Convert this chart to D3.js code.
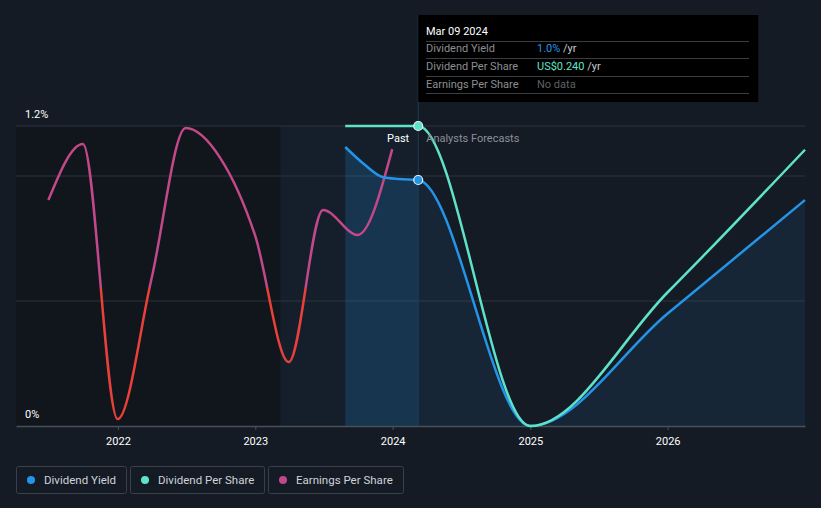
<!DOCTYPE html>
<html><head><meta charset="utf-8">
<script src="https://cdn.jsdelivr.net/npm/d3@7"></script>
<style>
html,body{margin:0;padding:0;background:#151b25;}
svg{display:block;font-family:Roboto,"Noto Sans",sans-serif;}
</style></head>
<body>
<svg id="chart" width="821" height="508"></svg>
<script>
// ---- data ----
const yearTicks = ["2022-01-01","2023-01-01","2024-01-01","2025-01-01","2026-01-01"];
const yTickValues = [0, 1.2];
const yTickLabels = ["0%", "1.2%"];
const gridValues = [0.5, 1.0, 1.2];

const yieldDates = ["2023-08-28","2023-10-15","2023-12-05","2024-01-19","2024-03-09","2025-01-01","2026-01-01","2027-01-01"];
const yieldValues = [1.116, 1.05, 0.996, 0.988, 0.984, 0.0, 0.45, 0.904];

const dpsDates = ["2023-08-28","2023-10-15","2023-12-05","2024-01-19","2024-03-09","2025-01-01","2026-01-01","2027-01-01"];
const dpsValues = [0.240, 0.240, 0.240, 0.240, 0.240, 0.0, 0.107, 0.221];

const epsDates = ["2021-06-30","2021-09-30","2021-12-31","2022-03-31","2022-06-30","2022-09-30","2022-12-31","2023-03-31","2023-06-30","2023-09-30","2023-12-31"];
const epsValues = [0.293, 0.48, -0.437, 0.03, 0.533, 0.433, 0.177, -0.247, 0.26, 0.177, 0.463];

const nowDate = "2024-03-09";
const pastStart = "2023-03-09";
const legendNames = ["Dividend Yield","Dividend Per Share","Earnings Per Share"];
const tooltipRows = [["Dividend Yield","1.0%"," /yr"],["Dividend Per Share","US$0.240"," /yr"],["Earnings Per Share","No data",""]];

// ---- setup ----
const parse = d3.timeParse("%Y-%m-%d");
const C = {yield:"#2394e6", dps:"#5fe3c8", eps:"#c2488a", epsNeg:"#e8403a"};
const svg = d3.select("#chart");
const L = 16, R = 805, T = 126, B = 426;

const x = d3.scaleTime().domain([parse("2021-04-05"), parse("2027-01-01")]).range([L, R]);
const y = d3.scaleLinear().domain([0, 1.2]).range([B, T]);
const yDps = d3.scaleLinear().domain([0, 0.24]).range([B, T]);
const yEps = d3.scaleLinear().domain([-0.46, 0.54]).range([B, T]);

const nowX = x(parse(nowDate));
const defs = svg.append("defs");

// background regions
svg.append("rect").attr("x", L).attr("y", T).attr("width", x(parse(pastStart)) - L).attr("height", B - T)
  .attr("fill", "#11151c");
svg.append("rect").attr("x", x(parse(pastStart))).attr("y", T).attr("width", nowX - x(parse(pastStart))).attr("height", B - T)
  .attr("fill", "#141f2b");

// gridlines
svg.append("g").selectAll("line").data(gridValues).join("line")
  .attr("x1", L).attr("x2", R).attr("y1", d => y(d)).attr("y2", d => y(d))
  .attr("stroke", "#2d343f").attr("stroke-width", 1);

const yieldData = yieldDates.map((d, i) => ({date: parse(d), v: yieldValues[i]}));
const dpsData = dpsDates.map((d, i) => ({date: parse(d), v: dpsValues[i]}));
const epsData = epsDates.map((d, i) => ({date: parse(d), v: epsValues[i]}));

// yield area fill
const area = d3.area().x(d => x(d.date)).y0(B).y1(d => y(d.v)).curve(d3.curveMonotoneX);
defs.append("clipPath").attr("id", "pastClip").append("rect")
  .attr("x", 0).attr("y", 0).attr("width", nowX).attr("height", B);
defs.append("clipPath").attr("id", "futClip").append("rect")
  .attr("x", nowX).attr("y", 0).attr("width", 900).attr("height", B);
svg.append("path").datum(yieldData).attr("d", area).attr("fill", "rgba(35,150,240,0.19)").attr("clip-path", "url(#pastClip)");
svg.append("path").datum(yieldData).attr("d", area).attr("fill", "rgba(35,150,240,0.09)").attr("clip-path", "url(#futClip)");

// now line
svg.append("line").attr("x1", nowX).attr("x2", nowX).attr("y1", 15).attr("y2", B)
  .attr("stroke", "#1f3d55").attr("stroke-width", 1);

// x axis
const xAxis = d3.axisBottom(x).tickValues(yearTicks.map(parse)).tickFormat(d3.timeFormat("%Y")).tickSize(4).tickSizeOuter(0);
const gx = svg.append("g").attr("transform", `translate(0,${B})`).call(xAxis);
gx.select(".domain").attr("stroke", "#4a5059").attr("stroke-width", 1.5);
gx.selectAll(".tick line").attr("stroke", "#4a5059");
gx.selectAll(".tick text").attr("fill", "#ffffff").attr("font-size", 11).attr("dy", "1.05em")
  .attr("font-family", "Roboto, sans-serif");

// y labels
svg.append("g").selectAll("text").data(yTickValues).join("text")
  .attr("x", 25).attr("y", d => y(d) - 8).text((d, i) => yTickLabels[i])
  .attr("fill", "#ffffff").attr("font-size", 11);

// EPS line with positive/negative clip
const epsLine = d3.line().x(d => x(d.date)).y(d => yEps(d.v)).curve(d3.curveMonotoneX);
const zeroY = yEps(0);
defs.append("clipPath").attr("id", "posClip").append("rect").attr("x", 0).attr("y", 0).attr("width", 821).attr("height", zeroY);
defs.append("clipPath").attr("id", "negClip").append("rect").attr("x", 0).attr("y", zeroY).attr("width", 821).attr("height", 508 - zeroY);
svg.append("path").datum(epsData).attr("d", epsLine).attr("fill", "none").attr("stroke", C.eps)
  .attr("stroke-width", 2.5).attr("clip-path", "url(#posClip)");
svg.append("path").datum(epsData).attr("d", epsLine).attr("fill", "none").attr("stroke", C.epsNeg)
  .attr("stroke-width", 2.5).attr("clip-path", "url(#negClip)");

// DPS & yield lines
const lineY = d3.line().x(d => x(d.date)).y(d => y(d.v)).curve(d3.curveMonotoneX);
const lineD = d3.line().x(d => x(d.date)).y(d => yDps(d.v)).curve(d3.curveMonotoneX);
svg.append("path").datum(yieldData).attr("d", lineY).attr("fill", "none").attr("stroke", C.yield).attr("stroke-width", 2.5);
svg.append("path").datum(dpsData).attr("d", lineD).attr("fill", "none").attr("stroke", C.dps).attr("stroke-width", 2.5);

// markers
const nowYield = yieldData.find(d => +d.date === +parse(nowDate));
const nowDps = dpsData.find(d => +d.date === +parse(nowDate));
svg.append("circle").attr("cx", nowX).attr("cy", y(nowYield.v)).attr("r", 4.5).attr("fill", C.yield).attr("stroke", "#e8f2fa").attr("stroke-width", 1.2);
svg.append("circle").attr("cx", nowX).attr("cy", yDps(nowDps.v)).attr("r", 4.5).attr("fill", C.dps).attr("stroke", "#e8f2fa").attr("stroke-width", 1.2);

// Past / Forecast labels
svg.append("text").attr("x", nowX - 9).attr("y", 142).attr("text-anchor", "end").attr("fill", "#ffffff").attr("font-size", 11).text("Past");
svg.append("text").attr("x", nowX + 8).attr("y", 142).attr("fill", "#8a9099").attr("font-size", 11).text("Analysts Forecasts");

// tooltip
const tip = svg.append("g");
tip.append("rect").attr("x", nowX).attr("y", 15).attr("width", 340).attr("height", 87).attr("fill", "#000000");
tip.append("text").attr("x", 426).attr("y", 35).attr("fill", "#ffffff").attr("font-size", 11).text("Mar 09 2024");
const rowY = [52, 70, 88];
const sepY = [41, 58, 76, 93];
tip.selectAll("line").data(sepY).join("line").attr("x1", 426).attr("x2", 749).attr("y1", d => d + 0.5).attr("y2", d => d + 0.5)
  .attr("stroke", "#3a3d42").attr("stroke-width", 1);
const valColors = [C.yield, C.dps, "#5e6167"];
tooltipRows.forEach((r, i) => {
  tip.append("text").attr("x", 426).attr("y", rowY[i]).attr("fill", "#8b8e93").attr("font-size", 11).text(r[0]);
  const t = tip.append("text").attr("x", 537).attr("y", rowY[i]).attr("font-size", 11);
  t.append("tspan").attr("fill", valColors[i]).text(r[1]);
  t.append("tspan").attr("fill", "#c8cbd0").text(r[2]);
});

// legend
const legX = [16, 130, 268], legW = [110, 134, 135];
const legColors = [C.yield, C.dps, C.eps];
const lg = svg.append("g");
legendNames.forEach((n, i) => {
  lg.append("rect").attr("x", legX[i] + 0.5).attr("y", 466.5).attr("width", legW[i]).attr("height", 27).attr("rx", 2)
    .attr("fill", "none").attr("stroke", "#3a404a");
  lg.append("circle").attr("cx", legX[i] + 15).attr("cy", 480).attr("r", 4).attr("fill", legColors[i]);
  lg.append("text").attr("x", legX[i] + 28).attr("y", 484).attr("fill", "#d0d3d8").attr("font-size", 11.5).text(n);
});
</script>
</body></html>
